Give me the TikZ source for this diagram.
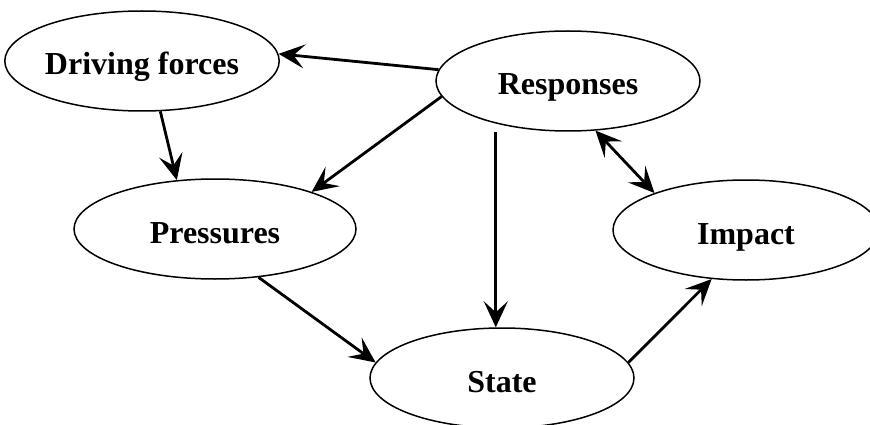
\documentclass[tikz,border=0pt]{standalone}
\usepackage{fontspec}
\setmainfont{Liberation Serif}
\usetikzlibrary{shapes.geometric, positioning, arrows.meta}

\begin{document}
\begin{tikzpicture}[x=1pt, y=-1pt,
		>={Stealth[length=26pt, width=24pt, inset=11pt]},
		stage/.style={ellipse, draw, line width=1.5pt, inner sep=0pt,
			minimum width=264pt, minimum height=100pt,
			text height=28pt, text depth=0pt,
			font=\fontsize{32}{36}\selectfont\bfseries},
		arr/.style={line width=2.8pt, ->}]
		\clip (0,0) rectangle (870,425);
		\node[stage] (drv) at (142,61) {Driving forces};
		\node[stage] (res) at (568,81) {Responses};
		\node[stage, minimum width=282pt] (prs) at (215,229) {Pressures};
		\node[stage, minimum width=266pt] (imp) at (746,230) {Impact};
		\node[stage] (sta) at (502,378) {State};
		
		
		\draw (res.175) edge[arr] (drv.3) ;
		\draw (drv.290) edge[arr] (prs.128) ;
		\draw (res.187) edge[arr] (prs.21) ;
		\draw (res.south -| sta.97) edge[arr] (sta.97) ;
		\draw (res.299) edge[arr, <->] (imp.158) ;
		\draw (prs.312) edge[arr] (sta.173) ;
		\draw (sta.7) edge[arr] (imp.235) ;
	\end{tikzpicture}
\end{document}
